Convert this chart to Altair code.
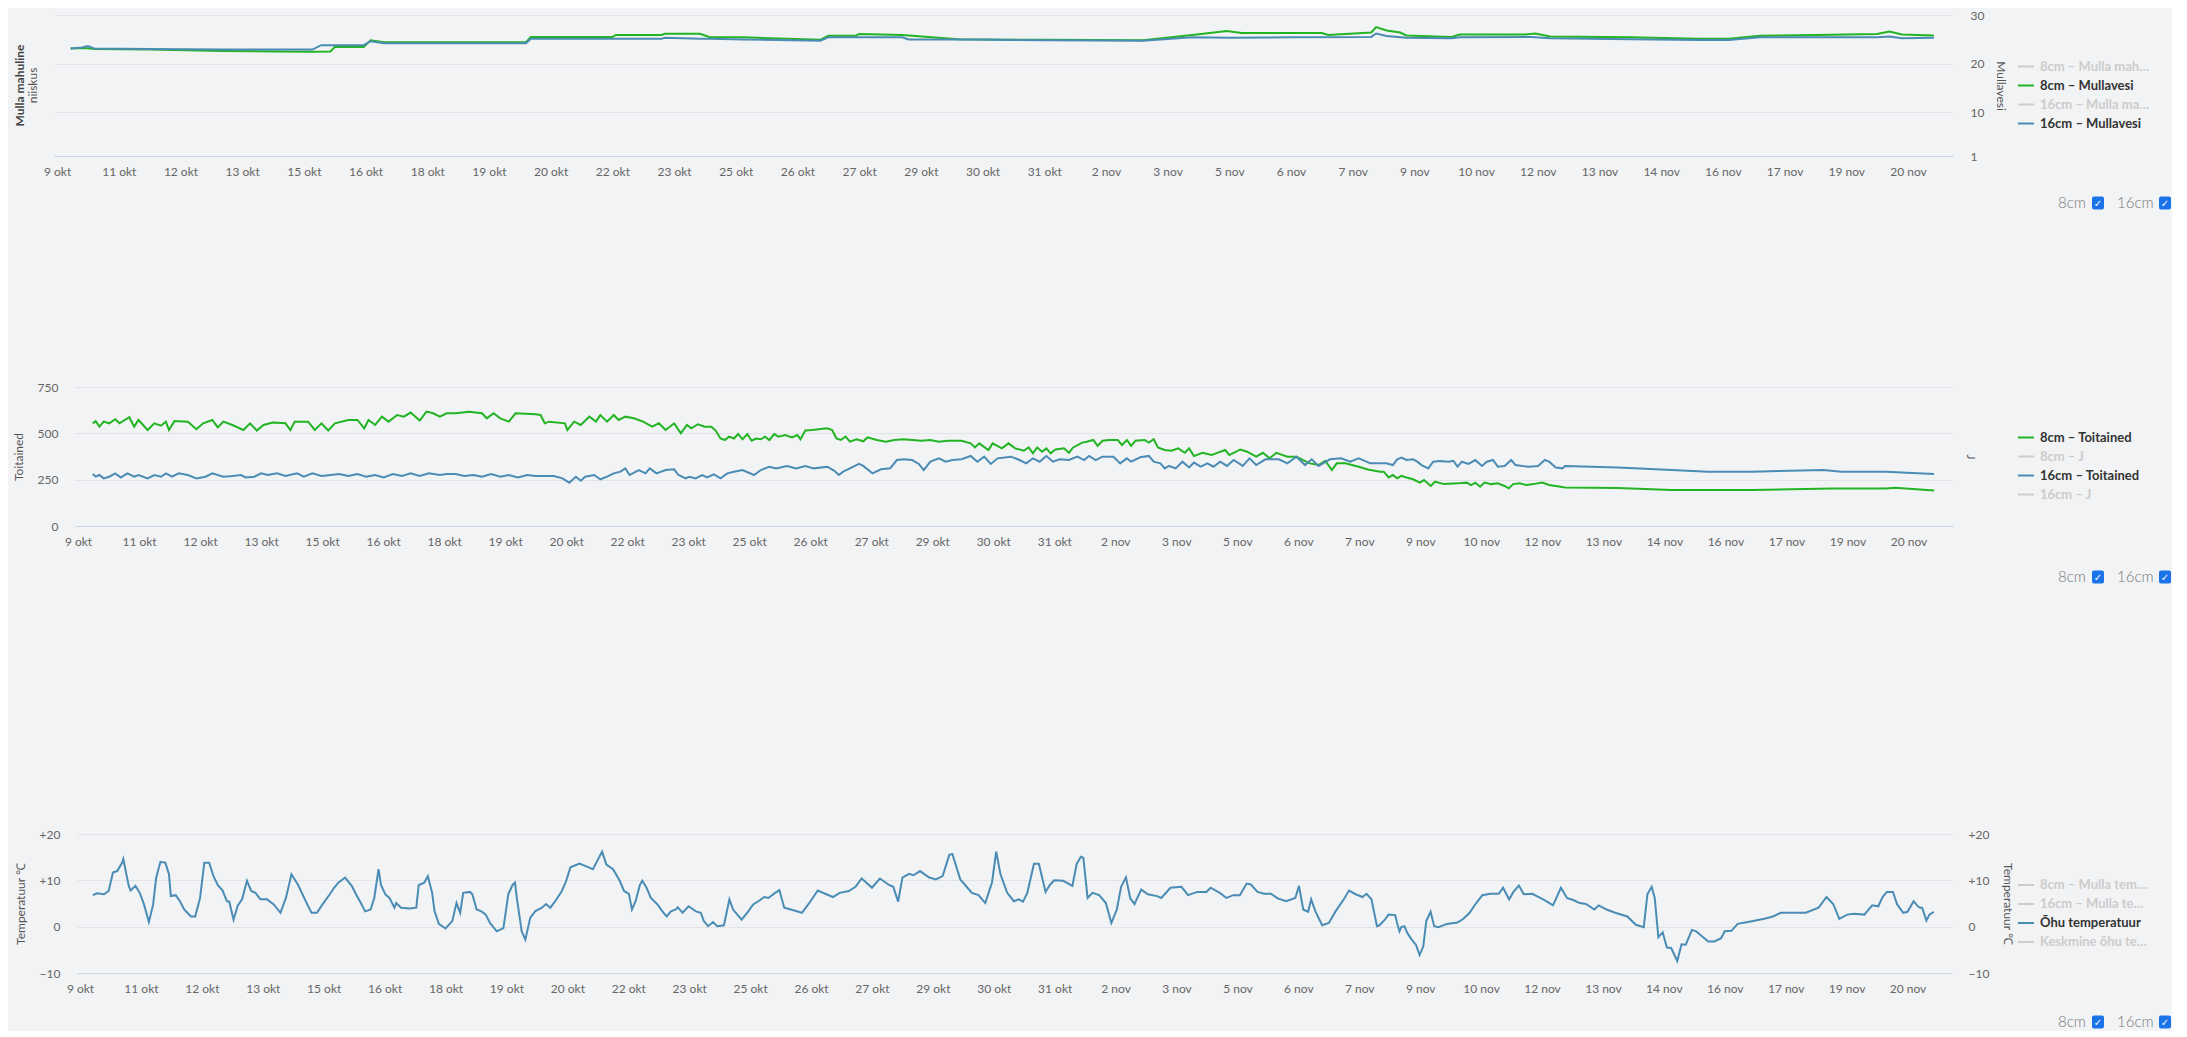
import json
import altair as alt
import pandas as pd

# ---------------- style ----------------
FONT = "Lato"
BG = "#f2f3f5"
GREEN = "#22b422"
BLUE = "#4b8cb5"
HIDDEN = "#cccccc"
GRID = "#e2e3e6"
AXIS_LINE = "#ccd6eb"
TEXT = "#666666"

# ---------------- x axis (time, in label steps) ----------------
X_LABELS = ["9 okt", "11 okt", "12 okt", "13 okt", "15 okt", "16 okt", "18 okt", "19 okt",
            "20 okt", "22 okt", "23 okt", "25 okt", "26 okt", "27 okt", "29 okt", "30 okt",
            "31 okt", "2 nov", "3 nov", "5 nov", "6 nov", "7 nov", "9 nov", "10 nov",
            "12 nov", "13 nov", "14 nov", "16 nov", "17 nov", "19 nov", "20 nov"]
X_TICKS = list(range(len(X_LABELS)))
X_DOMAIN = [-0.05, 30.73]

# ---------------- panel 1: Mullavesi ----------------
TOP_SERIES = ["8cm – Mulla mahuline niiskus", "8cm – Mullavesi",
              "16cm – Mulla mahuline niiskus", "16cm – Mullavesi"]
TOP_HIDDEN = [TOP_SERIES[0], TOP_SERIES[2]]
TOP_LEFT_TITLE = ["Mulla mahuline", "niiskus"]
TOP_Y_TICKS = [1, 10, 20, 30]
TOP_8CM = [(0.22, 23.1), (0.45, 23.2), (0.6, 23.0), (1.5, 22.9), (2.69, 22.6), (3.5, 22.5), (4.14, 22.45),
           (4.43, 22.5), (4.5, 23.4), (4.97, 23.4), (5.08, 24.8), (5.3, 24.4), (6.5, 24.4), (7.6, 24.4),
           (7.68, 25.5), (8.3, 25.5), (9.0, 25.5), (9.06, 25.9), (9.8, 25.9), (9.85, 26.15), (10.42, 26.15),
           (10.57, 25.5), (11.14, 25.4), (12.37, 24.9), (12.5, 25.75), (12.95, 25.75), (13.0, 26.1),
           (13.7, 25.9), (14.6, 25.0), (16.0, 24.9), (17.6, 24.8), (18.4, 25.9), (18.96, 26.7), (19.2, 26.3),
           (20.5, 26.3), (20.6, 25.9), (21.3, 26.4), (21.38, 27.5), (21.55, 26.8), (21.77, 26.4), (21.87, 25.8),
           (22.6, 25.5), (22.74, 26.0), (23.8, 26.0), (23.96, 26.2), (24.2, 25.6), (25.5, 25.4), (26.6, 25.1),
           (27.1, 25.1), (27.6, 25.75), (28.5, 25.9), (29.5, 26.1), (29.7, 26.6), (29.9, 26.0), (30.42, 25.8)]
TOP_16CM = [(0.22, 23.1), (0.40, 23.3), (0.5, 23.6), (0.6, 23.1), (1.5, 23.0), (2.69, 22.9), (4.14, 22.9),
            (4.28, 23.8), (4.97, 23.8), (5.08, 24.6), (5.3, 24.2), (6.5, 24.2), (7.6, 24.2), (7.68, 25.1),
            (9.8, 25.1), (9.85, 25.3), (10.42, 25.1), (10.57, 25.1), (11.14, 24.95), (12.37, 24.7), (12.5, 25.4),
            (13.7, 25.4), (13.8, 24.95), (14.6, 24.95), (16.0, 24.8), (17.6, 24.7), (18.4, 25.4), (19.0, 25.3),
            (20.0, 25.4), (21.3, 25.5), (21.38, 26.2), (21.55, 25.7), (21.87, 25.3), (22.6, 25.2), (22.74, 25.4),
            (23.9, 25.5), (24.2, 25.2), (25.5, 25.0), (26.6, 24.85), (27.1, 24.85), (27.6, 25.4), (28.5, 25.4),
            (29.5, 25.4), (29.7, 25.6), (29.9, 25.2), (30.42, 25.3)]

# ---------------- panel 2: Toitained ----------------
MID_SERIES = ["8cm – Toitained", "8cm – J", "16cm – Toitained", "16cm – J"]
MID_HIDDEN = [MID_SERIES[1], MID_SERIES[3]]
MID_Y_TICKS = [0, 250, 500, 750]
MID_8CM = [(0.24, 554), (0.29, 566), (0.35, 536), (0.42, 563), (0.51, 554), (0.61, 576), (0.68, 554), (0.84, 587),
           (0.92, 536), (0.99, 572), (1.14, 518), (1.25, 554), (1.36, 541), (1.44, 563), (1.49, 518), (1.58, 566),
           (1.80, 563), (1.94, 522), (2.05, 554), (2.20, 572), (2.29, 532), (2.38, 563), (2.53, 545), (2.71, 518),
           (2.82, 554), (2.93, 515), (3.04, 545), (3.19, 558), (3.40, 554), (3.48, 518), (3.55, 563), (3.77, 563),
           (3.88, 518), (3.99, 554), (4.10, 515), (4.21, 554), (4.43, 572), (4.58, 572), (4.69, 527), (4.76, 572),
           (4.87, 545), (4.98, 590), (5.09, 563), (5.23, 599), (5.34, 590), (5.45, 612), (5.60, 569), (5.71, 617),
           (5.82, 608), (5.93, 590), (6.04, 608), (6.19, 608), (6.41, 617), (6.62, 608), (6.70, 581), (6.81, 608),
           (6.92, 581), (7.06, 563), (7.17, 608), (7.50, 603), (7.58, 599), (7.65, 554), (7.72, 563), (7.98, 554),
           (8.02, 518), (8.13, 563), (8.24, 545), (8.38, 590), (8.49, 563), (8.56, 599), (8.67, 563), (8.78, 599),
           (8.86, 572), (8.97, 590), (9.11, 581), (9.26, 563), (9.41, 536), (9.52, 554), (9.63, 518), (9.77, 554),
           (9.88, 500), (9.98, 545), (10.05, 527), (10.16, 549), (10.27, 536), (10.38, 536), (10.45, 515),
           (10.53, 472), (10.60, 464), (10.67, 482), (10.75, 472), (10.82, 496), (10.89, 468), (10.97, 496),
           (11.04, 460), (11.11, 472), (11.19, 468), (11.26, 482), (11.33, 464), (11.41, 496), (11.48, 482),
           (11.59, 491), (11.70, 478), (11.79, 491), (11.84, 468), (11.92, 515), (12.03, 518), (12.14, 522),
           (12.28, 527), (12.36, 518), (12.43, 472), (12.50, 464), (12.58, 482), (12.65, 455), (12.76, 468),
           (12.87, 457), (12.94, 478), (13.09, 464), (13.24, 455), (13.38, 464), (13.53, 468), (13.67, 464),
           (13.82, 460), (13.97, 464), (14.11, 455), (14.26, 460), (14.48, 460), (14.63, 446), (14.70, 424),
           (14.77, 446), (14.92, 410), (14.99, 446), (15.14, 419), (15.25, 446), (15.36, 419), (15.50, 406),
           (15.58, 424), (15.65, 392), (15.72, 424), (15.80, 401), (15.87, 419), (15.94, 392), (16.02, 413),
           (16.16, 419), (16.24, 395), (16.31, 424), (16.46, 450), (16.53, 455), (16.64, 464), (16.71, 432),
           (16.79, 460), (16.90, 464), (17.04, 464), (17.11, 437), (17.19, 464), (17.26, 432), (17.33, 460),
           (17.48, 464), (17.55, 450), (17.63, 468), (17.70, 424), (17.81, 410), (17.92, 406), (18.03, 419),
           (18.14, 395), (18.21, 419), (18.29, 377), (18.43, 395), (18.58, 383), (18.65, 392), (18.80, 410),
           (18.87, 383), (18.94, 395), (19.05, 413), (19.16, 401), (19.31, 374), (19.42, 395), (19.53, 365),
           (19.64, 395), (19.82, 374), (19.97, 374), (20.08, 356), (20.19, 338), (20.33, 329), (20.44, 352),
           (20.55, 302), (20.63, 338), (20.77, 338), (20.99, 320), (21.14, 305), (21.34, 293), (21.40, 293),
           (21.48, 262), (21.55, 275), (21.62, 257), (21.69, 271), (21.77, 262), (21.88, 252), (21.99, 234),
           (22.06, 248), (22.17, 216), (22.24, 239), (22.39, 226), (22.61, 230), (22.76, 234), (22.83, 221),
           (22.90, 234), (22.98, 212), (23.05, 234), (23.16, 226), (23.27, 230), (23.38, 216), (23.45, 203),
           (23.52, 226), (23.63, 230), (23.74, 221), (23.85, 226), (24.00, 234), (24.11, 221), (24.22, 216),
           (24.37, 208), (25.24, 205), (26.12, 194), (27.44, 194), (28.76, 203), (29.63, 203), (29.78, 207),
           (30.42, 191)]
MID_16CM = [(0.24, 280), (0.29, 266), (0.35, 275), (0.42, 257), (0.51, 266), (0.61, 284), (0.70, 262), (0.81, 284),
            (0.92, 266), (0.99, 275), (1.14, 257), (1.25, 275), (1.36, 266), (1.44, 284), (1.54, 266), (1.65, 284),
            (1.80, 275), (1.94, 257), (2.09, 266), (2.20, 284), (2.38, 266), (2.53, 270), (2.67, 275), (2.75, 262),
            (2.89, 266), (3.00, 284), (3.11, 275), (3.26, 284), (3.40, 270), (3.59, 284), (3.70, 266), (3.84, 284),
            (3.99, 270), (4.14, 275), (4.28, 280), (4.43, 270), (4.58, 280), (4.72, 266), (4.87, 275), (5.01, 262),
            (5.16, 280), (5.31, 270), (5.45, 284), (5.60, 270), (5.75, 284), (5.93, 275), (6.04, 280), (6.19, 280),
            (6.33, 270), (6.48, 275), (6.62, 266), (6.77, 280), (6.92, 266), (7.06, 275), (7.21, 262), (7.36, 275),
            (7.50, 270), (7.80, 270), (7.94, 257), (8.05, 234), (8.16, 266), (8.24, 244), (8.31, 266), (8.46, 275),
            (8.56, 252), (8.67, 266), (8.78, 284), (8.89, 293), (8.97, 311), (9.04, 275), (9.19, 302), (9.30, 284),
            (9.37, 311), (9.48, 284), (9.63, 302), (9.77, 306), (9.84, 275), (9.96, 257), (10.02, 266),
            (10.12, 257), (10.23, 275), (10.31, 262), (10.42, 279), (10.53, 257), (10.64, 284), (10.75, 293),
            (10.89, 302), (11.08, 275), (11.19, 302), (11.33, 320), (11.44, 311), (11.62, 324), (11.77, 311),
            (11.92, 324), (12.06, 311), (12.28, 320), (12.39, 299), (12.47, 275), (12.54, 293), (12.65, 311),
            (12.80, 335), (12.87, 324), (13.02, 284), (13.16, 306), (13.31, 311), (13.42, 356), (13.53, 360),
            (13.67, 356), (13.78, 335), (13.86, 302), (13.97, 347), (14.11, 365), (14.22, 347), (14.33, 356),
            (14.48, 360), (14.63, 378), (14.74, 347), (14.85, 374), (14.96, 335), (15.07, 365), (15.29, 374),
            (15.43, 356), (15.54, 338), (15.65, 365), (15.76, 347), (15.87, 378), (15.98, 347), (16.09, 360),
            (16.24, 356), (16.38, 374), (16.49, 356), (16.57, 378), (16.68, 356), (16.79, 374), (16.97, 374),
            (17.08, 338), (17.19, 365), (17.26, 347), (17.41, 371), (17.55, 378), (17.63, 347), (17.74, 338),
            (17.81, 311), (17.88, 324), (17.99, 311), (18.10, 347), (18.21, 316), (18.29, 342), (18.40, 320),
            (18.51, 338), (18.61, 320), (18.72, 347), (18.83, 324), (18.94, 356), (19.09, 324), (19.20, 365),
            (19.31, 329), (19.46, 360), (19.68, 360), (19.82, 338), (19.97, 374), (20.11, 329), (20.22, 360),
            (20.33, 324), (20.52, 360), (20.70, 365), (20.85, 347), (20.99, 365), (21.18, 338), (21.34, 338),
            (21.44, 338), (21.55, 329), (21.62, 360), (21.69, 369), (21.77, 356), (21.88, 360), (21.95, 347),
            (22.02, 329), (22.13, 311), (22.21, 347), (22.32, 351), (22.46, 347), (22.54, 352), (22.61, 320),
            (22.68, 347), (22.79, 335), (22.90, 356), (23.01, 324), (23.09, 347), (23.19, 356), (23.27, 320),
            (23.38, 324), (23.49, 356), (23.56, 329), (23.67, 324), (23.78, 320), (23.93, 324), (24.04, 356),
            (24.11, 347), (24.22, 316), (24.33, 311), (24.37, 324), (25.24, 316), (26.12, 302), (26.71, 293),
            (27.44, 293), (28.61, 302), (28.90, 293), (29.63, 293), (30.42, 280)]

# ---------------- panel 3: Temperatuur ----------------
BOT_SERIES = ["8cm – Mulla temperatuur", "16cm – Mulla temperatuur", "Õhu temperatuur",
              "Keskmine õhu temperatuur"]
BOT_HIDDEN = [BOT_SERIES[0], BOT_SERIES[1], BOT_SERIES[3]]
BOT_Y_TICKS = [-10, 0, 10, 20]
AIR_TEMP = [(0.21, 6.8), (0.28, 7.2), (0.39, 7.0), (0.47, 7.7), (0.54, 11.7), (0.61, 12.0), (0.69, 13.8),
            (0.71, 14.6), (0.76, 11.3), (0.80, 8.8), (0.83, 7.8), (0.91, 8.8), (0.98, 7.3), (1.05, 4.8),
            (1.13, 1.0), (1.20, 4.8), (1.25, 10.6), (1.32, 14.0), (1.40, 13.8), (1.46, 11.3), (1.49, 6.6),
            (1.57, 6.8), (1.64, 5.5), (1.71, 3.7), (1.82, 2.2), (1.89, 2.2), (1.97, 6.2), (2.04, 13.8),
            (2.12, 13.8), (2.19, 10.9), (2.26, 9.0), (2.34, 7.8), (2.41, 5.5), (2.45, 5.4), (2.52, 1.5),
            (2.59, 4.6), (2.66, 5.9), (2.74, 9.9), (2.81, 7.7), (2.88, 7.3), (2.96, 5.9), (3.07, 5.9),
            (3.18, 4.8), (3.29, 3.0), (3.38, 6.2), (3.47, 11.3), (3.58, 9.0), (3.73, 4.8), (3.80, 3.0),
            (3.89, 3.0), (3.98, 4.8), (4.10, 7.0), (4.17, 8.4), (4.24, 9.5), (4.35, 10.6), (4.46, 8.8),
            (4.53, 7.0), (4.61, 5.1), (4.68, 3.3), (4.77, 3.7), (4.83, 6.2), (4.90, 12.4), (4.94, 9.0),
            (5.01, 7.0), (5.08, 6.2), (5.16, 4.1), (5.19, 5.1), (5.27, 4.1), (5.41, 3.9), (5.52, 4.1),
            (5.56, 9.0), (5.65, 9.5), (5.71, 10.9), (5.78, 7.3), (5.82, 3.3), (5.89, 0.6), (6.00, -0.4),
            (6.11, 1.2), (6.18, 5.1), (6.24, 3.0), (6.29, 7.3), (6.40, 7.5), (6.44, 7.0), (6.51, 3.7),
            (6.59, 3.3), (6.66, 2.6), (6.73, 0.8), (6.84, -1.0), (6.95, -0.3), (7.03, 7.0), (7.10, 9.0),
            (7.14, 9.5), (7.17, 6.2), (7.25, -1.0), (7.31, -2.8), (7.39, 1.9), (7.47, 3.3), (7.58, 4.1),
            (7.65, 4.9), (7.72, 4.1), (7.80, 5.5), (7.91, 7.7), (7.98, 9.9), (8.05, 12.8), (8.20, 13.6),
            (8.35, 12.8), (8.42, 12.4), (8.49, 14.2), (8.57, 16.2), (8.64, 13.4), (8.75, 12.4), (8.86, 9.9),
            (8.93, 7.7), (9.01, 7.1), (9.06, 3.7), (9.12, 5.5), (9.19, 9.0), (9.23, 9.9), (9.30, 8.4),
            (9.37, 6.2), (9.48, 4.8), (9.56, 3.3), (9.63, 2.2), (9.70, 3.3), (9.78, 3.7), (9.81, 4.2),
            (9.89, 3.0), (9.99, 4.4), (10.11, 3.3), (10.19, 3.0), (10.24, 1.2), (10.31, 0.1), (10.39, 1.0),
            (10.46, 0.1), (10.57, 0.3), (10.66, 5.9), (10.72, 3.7), (10.79, 2.6), (10.86, 1.5), (10.97, 3.3),
            (11.05, 4.8), (11.16, 5.7), (11.23, 6.4), (11.30, 6.2), (11.41, 7.3), (11.48, 7.9), (11.56, 4.1),
            (11.67, 3.7), (11.85, 3.0), (11.96, 4.9), (12.11, 7.8), (12.25, 7.0), (12.36, 6.4), (12.47, 7.3),
            (12.62, 7.7), (12.73, 8.6), (12.83, 10.4), (12.91, 9.5), (13.00, 8.4), (13.13, 10.4), (13.28, 9.0),
            (13.35, 8.6), (13.43, 5.4), (13.50, 10.6), (13.61, 11.4), (13.68, 11.1), (13.79, 12.0),
            (13.94, 10.6), (14.05, 10.2), (14.16, 10.9), (14.27, 15.5), (14.32, 15.7), (14.45, 10.2),
            (14.53, 9.0), (14.64, 7.3), (14.75, 6.8), (14.86, 5.1), (14.97, 9.5), (15.04, 16.2), (15.11, 11.3),
            (15.22, 7.3), (15.33, 5.5), (15.41, 5.9), (15.48, 5.4), (15.55, 7.3), (15.66, 13.6), (15.74, 13.6),
            (15.85, 7.5), (15.92, 9.0), (15.99, 10.0), (16.14, 9.9), (16.29, 8.8), (16.36, 13.5), (16.43, 15.1),
            (16.47, 14.9), (16.54, 6.2), (16.62, 7.3), (16.73, 6.8), (16.84, 5.1), (16.93, 0.8), (17.02, 3.7),
            (17.09, 8.6), (17.17, 10.6), (17.24, 6.1), (17.31, 4.9), (17.42, 8.0), (17.53, 7.0), (17.68, 6.6),
            (17.75, 6.2), (17.90, 8.4), (18.08, 8.6), (18.19, 6.8), (18.34, 7.5), (18.49, 7.5), (18.56, 8.4),
            (18.71, 7.3), (18.82, 6.2), (18.93, 6.8), (19.04, 6.8), (19.15, 9.3), (19.22, 9.1), (19.33, 7.5),
            (19.44, 7.1), (19.55, 7.1), (19.66, 6.1), (19.80, 5.5), (19.95, 6.2), (20.01, 8.8), (20.08, 3.7),
            (20.16, 3.2), (20.21, 5.9), (20.28, 3.3), (20.39, 0.3), (20.50, 0.8), (20.61, 3.3), (20.76, 6.2),
            (20.83, 7.8), (20.94, 7.0), (21.05, 6.4), (21.12, 7.1), (21.20, 5.9), (21.29, 0.1), (21.33, 0.3),
            (21.42, 1.5), (21.48, 2.6), (21.59, 2.5), (21.62, 0.8), (21.66, -1.0), (21.69, -0.1), (21.74, 0.1),
            (21.79, -1.4), (21.86, -2.8), (21.93, -3.9), (21.99, -6.1), (22.05, -4.3), (22.10, 1.2),
            (22.17, 3.2), (22.23, 0.1), (22.30, -0.1), (22.44, 0.6), (22.61, 0.9), (22.71, 1.7), (22.81, 3.0),
            (22.92, 5.1), (23.02, 6.8), (23.15, 7.1), (23.29, 7.1), (23.36, 8.4), (23.46, 5.9), (23.53, 7.5),
            (23.62, 8.9), (23.70, 7.0), (23.84, 7.1), (23.97, 6.2), (24.07, 5.5), (24.18, 4.6), (24.31, 8.4),
            (24.41, 6.2), (24.52, 5.7), (24.62, 5.1), (24.72, 4.9), (24.86, 3.7), (24.93, 4.6), (25.06, 3.7),
            (25.20, 3.0), (25.40, 2.2), (25.54, 0.4), (25.67, -0.1), (25.73, 7.0), (25.80, 8.6), (25.85, 6.2),
            (25.91, -2.3), (25.98, -1.2), (26.05, -4.5), (26.12, -4.6), (26.22, -7.4), (26.29, -3.8),
            (26.36, -3.9), (26.46, -0.7), (26.53, -1.0), (26.63, -2.1), (26.73, -3.2), (26.83, -3.2),
            (26.94, -2.5), (27.00, -1.0), (27.11, -0.9), (27.21, 0.6), (27.38, 1.0), (27.65, 1.7), (27.79, 2.2),
            (27.92, 3.0), (28.20, 3.0), (28.33, 3.0), (28.54, 4.1), (28.67, 6.4), (28.78, 4.9), (28.88, 1.7),
            (29.01, 2.6), (29.12, 2.8), (29.29, 2.6), (29.42, 4.6), (29.52, 4.4), (29.59, 6.4), (29.66, 7.5),
            (29.76, 7.5), (29.83, 4.8), (29.93, 3.0), (30.00, 3.2), (30.10, 5.5), (30.17, 4.4), (30.21, 4.1),
            (30.24, 4.1), (30.31, 1.3), (30.36, 2.6), (30.43, 3.2)]

TOGGLE_LABELS = ["8cm", "16cm"]

# ---------------- layout (pixels) ----------------
ORIGIN_X = 54          # page x of every panel's group origin
PANEL_W = 1899
TOP_X_RANGE = [0, 1899]
MID_X_RANGE = [21, 1899]
BOT_X_RANGE = [23, 1898]
LEGEND_X = 1963


# ---------------- helpers ----------------
def to_df(pairs, series):
    return pd.DataFrame({"t": [p[0] for p in pairs], "v": [p[1] for p in pairs], "series": series})


def x_enc(rng):
    expr = json.dumps(X_LABELS) + "[datum.value]"
    return alt.X("t:Q", scale=alt.Scale(domain=X_DOMAIN, range=rng, nice=False, zero=False),
                 axis=alt.Axis(values=X_TICKS, labelExpr=expr, title=None, grid=False, ticks=False,
                               domainColor=AXIS_LINE, domainWidth=1, labelColor=TEXT, labelFont=FONT,
                               labelFontSize=12, labelPadding=10, labelOverlap=False, labelFlush=False))


def y_scale(dom):
    return alt.Scale(domain=dom, nice=False, zero=False)


def y_axis(orient, values, title, labels=True, grid=False, label_expr=None, title_padding=10,
           label_padding=17, offset=0):
    kw = dict(orient=orient, values=values, title=title, labels=labels, grid=grid, gridColor=GRID,
              gridWidth=1, domain=False, ticks=False, labelColor=TEXT, labelFont=FONT, labelFontSize=12,
              labelPadding=label_padding, titleFont=FONT, titleFontSize=12, titleColor="#555555",
              titleFontWeight="normal", titlePadding=title_padding, offset=offset)
    if label_expr:
        kw["labelExpr"] = label_expr
    return alt.Axis(**kw)


def legend(hidden, ly, limit):
    expr = "indexof(" + json.dumps(hidden, ensure_ascii=False) + ", datum.value) >= 0 ? '#cccccc' : '#333333'"
    return alt.Legend(title=None, orient="none", legendX=LEGEND_X, legendY=ly, direction="vertical",
                      symbolType="stroke", symbolSize=256, symbolStrokeWidth=2, labelFont=FONT,
                      labelFontSize=13, labelFontWeight="bold", labelColor={"expr": expr},
                      labelLimit=limit, rowPadding=3, labelOffset=5, padding=0)


def frame(top, bottom):
    # invisible guide that fixes the panel's layout bounds
    return alt.Chart(pd.DataFrame({"k": [0]})).mark_rule(strokeOpacity=0, strokeWidth=1).encode(
        x=alt.value(-(ORIGIN_X - 8.5)), y=alt.value(-top), y2=alt.value(bottom))


def toggles(y):
    one = pd.DataFrame({"k": [0]})
    layers = []
    for label, tx, bx in zip(TOGGLE_LABELS, [2058, 2117], [2092, 2159]):
        layers.append(alt.Chart(one).mark_text(text=label, align="left", baseline="middle", font=FONT,
                                               fontSize=15, fontWeight=300, color="#777777").encode(
            x=alt.value(tx - ORIGIN_X), y=alt.value(y)))
        layers.append(alt.Chart(one).mark_rect(color="#1a73e8", cornerRadius=2).encode(
            x=alt.value(bx - ORIGIN_X), x2=alt.value(bx - ORIGIN_X + 12),
            y=alt.value(y - 6.5), y2=alt.value(y + 6.5)))
        layers.append(alt.Chart(one).mark_text(text="✓", align="center", baseline="middle",
                                               font="DejaVu Sans", fontSize=10, fontWeight="bold",
                                               color="white").encode(
            x=alt.value(bx - ORIGIN_X + 6), y=alt.value(y + 0.5)))
    return layers


# ---------------- panel 1 ----------------
P1_H = 141
top_df = pd.concat([to_df(TOP_8CM, TOP_SERIES[1]), to_df(TOP_16CM, TOP_SERIES[3])])
top_lines = alt.Chart(top_df).mark_line(strokeWidth=2).encode(
    x=x_enc(TOP_X_RANGE),
    y=alt.Y("v:Q", scale=y_scale([1, 30]),
            axis=y_axis("right", TOP_Y_TICKS, "Mullavesi", grid=True, title_padding=10)),
    color=alt.Color("series:N", scale=alt.Scale(domain=TOP_SERIES, range=[HIDDEN, GREEN, HIDDEN, BLUE]),
                    legend=legend(TOP_HIDDEN, 42.5, 112)),
)
one_row = pd.DataFrame({"k": [0]})
top_title1 = alt.Chart(one_row).mark_text(text=TOP_LEFT_TITLE[0], angle=270, align="center", baseline="middle",
                                          font=FONT, fontSize=12, fontWeight="bold", color="#444444").encode(
    x=alt.value(-34), y=alt.value(P1_H / 2))
top_title2 = alt.Chart(one_row).mark_text(text=TOP_LEFT_TITLE[1], angle=270, align="center", baseline="middle",
                                          font=FONT, fontSize=12, color="#555555").encode(
    x=alt.value(-21), y=alt.value(P1_H / 2))
top = alt.layer(frame(5.5, 170), top_title1, top_title2, top_lines).properties(width=PANEL_W, height=P1_H)

# ---------------- panel 2 ----------------
P2_H = 139
mid_df = pd.concat([to_df(MID_8CM, MID_SERIES[0]), to_df(MID_16CM, MID_SERIES[2])])
mid_lines = alt.Chart(mid_df).mark_line(strokeWidth=2).encode(
    x=x_enc(MID_X_RANGE),
    y=alt.Y("v:Q", scale=y_scale([0, 750]),
            axis=y_axis("left", MID_Y_TICKS, "Toitained", grid=True, title_padding=12,
                        offset=-MID_X_RANGE[0])),
    color=alt.Color("series:N", scale=alt.Scale(domain=MID_SERIES, range=[GREEN, HIDDEN, BLUE, HIDDEN]),
                    legend=legend(MID_HIDDEN, 41.5, 200)),
)
mid_right_axis = alt.Chart(pd.DataFrame({"v": MID_Y_TICKS})).mark_rule(strokeOpacity=0).encode(
    y=alt.Y("v:Q", scale=y_scale([0, 750]),
            axis=y_axis("right", MID_Y_TICKS, "J", labels=False, title_padding=10)))
# the first panel's toggles sit in the gap above this panel
mid = alt.layer(frame(200, 198), mid_right_axis, mid_lines, *toggles(-184), *toggles(190)).resolve_scale(
    y="independent").properties(width=PANEL_W, height=P2_H)

# ---------------- panel 3 ----------------
P3_H = 139
plus_expr = "datum.value > 0 ? '+' + datum.label : datum.label"
bot_df = to_df(AIR_TEMP, BOT_SERIES[2])
bot_lines = alt.Chart(bot_df).mark_line(strokeWidth=2).encode(
    x=x_enc(BOT_X_RANGE),
    y=alt.Y("v:Q", scale=y_scale([-10, 20]),
            axis=y_axis("left", BOT_Y_TICKS, "Temperatuur ℃", grid=True, label_expr=plus_expr,
                        title_padding=12, offset=-BOT_X_RANGE[0])),
    color=alt.Color("series:N", scale=alt.Scale(domain=BOT_SERIES, range=[HIDDEN, HIDDEN, BLUE, HIDDEN]),
                    legend=legend(BOT_HIDDEN, 42, 110)),
)
bot_right_axis = alt.Chart(pd.DataFrame({"v": BOT_Y_TICKS})).mark_rule(strokeOpacity=0).encode(
    y=alt.Y("v:Q", scale=y_scale([-10, 20]),
            axis=y_axis("right", BOT_Y_TICKS, "Temperatuur ℃", label_expr=plus_expr, label_padding=15,
                        title_padding=12)))
bot = alt.layer(frame(247, 195), bot_right_axis, bot_lines, *toggles(188)).resolve_scale(
    y="independent").properties(width=PANEL_W, height=P3_H)

chart = alt.concat(top, mid, bot, columns=1, spacing=0,
                   padding={"left": 0, "top": 0, "right": 0, "bottom": 0}).resolve_scale(
    x="independent", y="independent", color="independent").resolve_legend(color="independent").configure(
    background=BG, font=FONT).configure_view(stroke="transparent")

chart.save("out.html", embed_options={"renderer": "svg", "actions": False})
